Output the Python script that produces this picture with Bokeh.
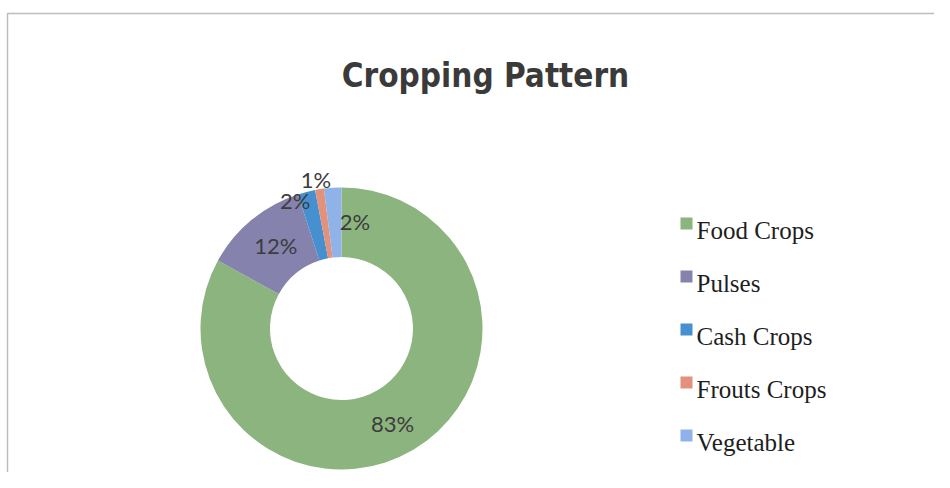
import math
from bokeh.plotting import figure
from bokeh.models import ColumnDataSource
from bokeh.core.properties import value
from bokeh.embed import file_html
from bokeh.resources import INLINE

# ---- data ----
categories = ["Food Crops", "Pulses", "Cash Crops", "Frouts Crops", "Vegetable"]
shares = [83, 12, 2, 1, 2]
labels = ["83%", "12%", "2%", "1%", "2%"]
colors = ["#8cb47f", "#8582ae", "#4690cf", "#e2917a", "#8fb2e8"]
title_text = "Cropping Pattern"

W, H = 934, 472
p = figure(width=W, height=H, x_range=(0, W), y_range=(0, H),
           output_backend="svg", toolbar_location=None, min_border=0)
p.axis.visible = False
p.grid.visible = False
p.outline_line_color = None
p.background_fill_color = "white"
p.border_fill_color = "white"

# frame
p.line(x=[7, 7, W], y=[0, 459, 459], line_color="#bdbdbd", line_width=1.5)

# donut
cx, cy = 341, 144
r_out, r_in = 141, 71.5
total = sum(shares)
starts, ends, mids = [], [], []
acc = 0.0
for v in shares:
    a0 = math.pi / 2 - 2 * math.pi * acc / total
    acc += v
    a1 = math.pi / 2 - 2 * math.pi * acc / total
    starts.append(a0)
    ends.append(a1)
    mids.append((a0 + a1) / 2)

src = ColumnDataSource(dict(start=starts, end=ends, color=colors))
p.annular_wedge(x=cx, y=cy, inner_radius=r_in, outer_radius=r_out,
                start_angle="start", end_angle="end", direction="clock",
                fill_color="color", line_color=None, source=src)

# data labels (mid-ring, small slices nudged like Excel)
r_lab = (r_in + r_out) / 2
nudge_x = [-3, 2, -20, -9, 20]
nudge_y = [-4, 1, 25, 44, 1]
lx = [cx + r_lab * math.cos(m) + dx for m, dx in zip(mids, nudge_x)]
ly = [cy + r_lab * math.sin(m) + dy for m, dy in zip(mids, nudge_y)]
p.text(x=lx, y=ly, text=labels, text_font=value("Lato"), text_font_size="22px",
       text_color="#3c3c3c", text_align="center", text_baseline="middle")

# title
p.text(x=[485], y=[397], text=[title_text],
       text_font=value("DejaVu Sans Condensed"),
       text_font_size="33px", text_font_style="bold", text_color="#3a3a3a",
       text_align="center", text_baseline="alphabetic")

# legend
lg_x, lg_y0, lg_dy = 686, 249, 53
sq_y = [lg_y0 - i * lg_dy for i in range(len(categories))]
p.rect(x=[lg_x] * len(categories), y=sq_y, width=12, height=12,
       fill_color=colors, line_color=None)
p.text(x=[lg_x + 10] * len(categories), y=[y - 7 for y in sq_y], text=categories,
       text_font=value("Liberation Serif"), text_font_size="25px",
       text_color="#1e1e1e", text_align="left", text_baseline="alphabetic")

open("out.html", "w").write(file_html(p, INLINE))
